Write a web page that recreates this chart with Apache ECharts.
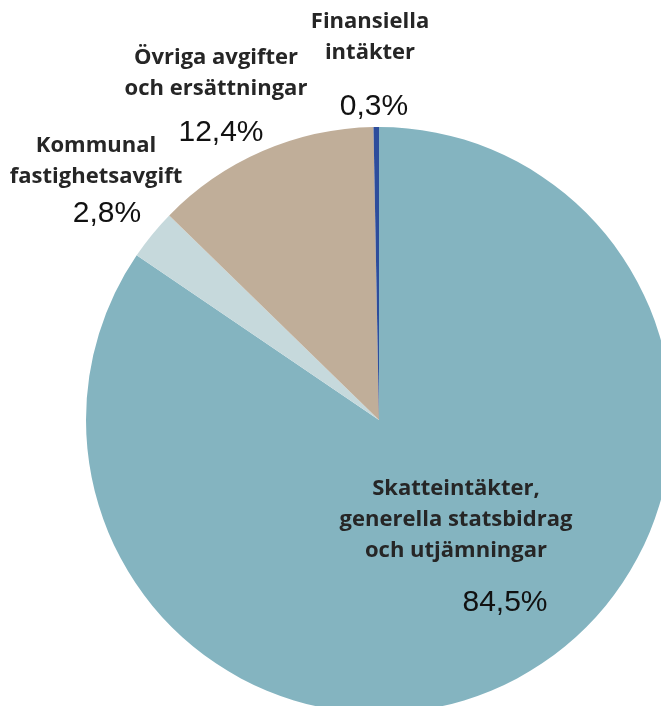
<!DOCTYPE html>
<html><head><meta charset="utf-8">
<script src="https://cdn.jsdelivr.net/npm/echarts@6/dist/echarts.min.js"></script>
<style>html,body{margin:0;padding:0;background:#fff}#c{width:661px;height:706px}</style>
</head><body><div id="c"></div>
<script>
const categories = ["Skatteintäkter,\ngenerella statsbidrag\noch utjämningar", "Kommunal\nfastighetsavgift", "Övriga avgifter\noch ersättningar", "Finansiella\nintäkter"];
const values = [84.5, 2.8, 12.4, 0.3];
const colors = ["#84b4c0", "#c6d9dc", "#c0ae99", "#2d4d9c"];

const chart = echarts.init(document.getElementById('c'), null, {renderer:'canvas'});
const fmt = v => v.toFixed(1).replace('.', ',') + '%';
// label anchor positions (px): centre x, top y of name block; centre of percent
const namePos = [[456, 473], [96, 130], [216, 42], [370, 6]];
const pctPos = [[505, 603], [107, 214], [221, 133], [374, 107]];
const graphics = [];
categories.forEach((c, i) => {
  graphics.push({type:'text', x: namePos[i][0], y: namePos[i][1], z: 10,
    style:{text:c, font:'bold 22px "Open Sans"', fill:'#262626', align:'center', verticalAlign:'top', lineHeight:31}});
  graphics.push({type:'text', x: pctPos[i][0], y: pctPos[i][1], z: 10,
    style:{text:fmt(values[i]), font:'30px "Liberation Sans"', fill:'#111', align:'center', verticalAlign:'middle'}});
});
chart.setOption({
  animation:false,
  series:[{type:'pie', center:[379,420], radius:293, startAngle:90, clockwise:true,
    label:{show:false}, labelLine:{show:false},
    itemStyle:{borderWidth:0},
    data: categories.map((c,i)=>({name:c, value:values[i], itemStyle:{color:colors[i]}}))}],
  graphic: graphics
});
</script></body></html>
